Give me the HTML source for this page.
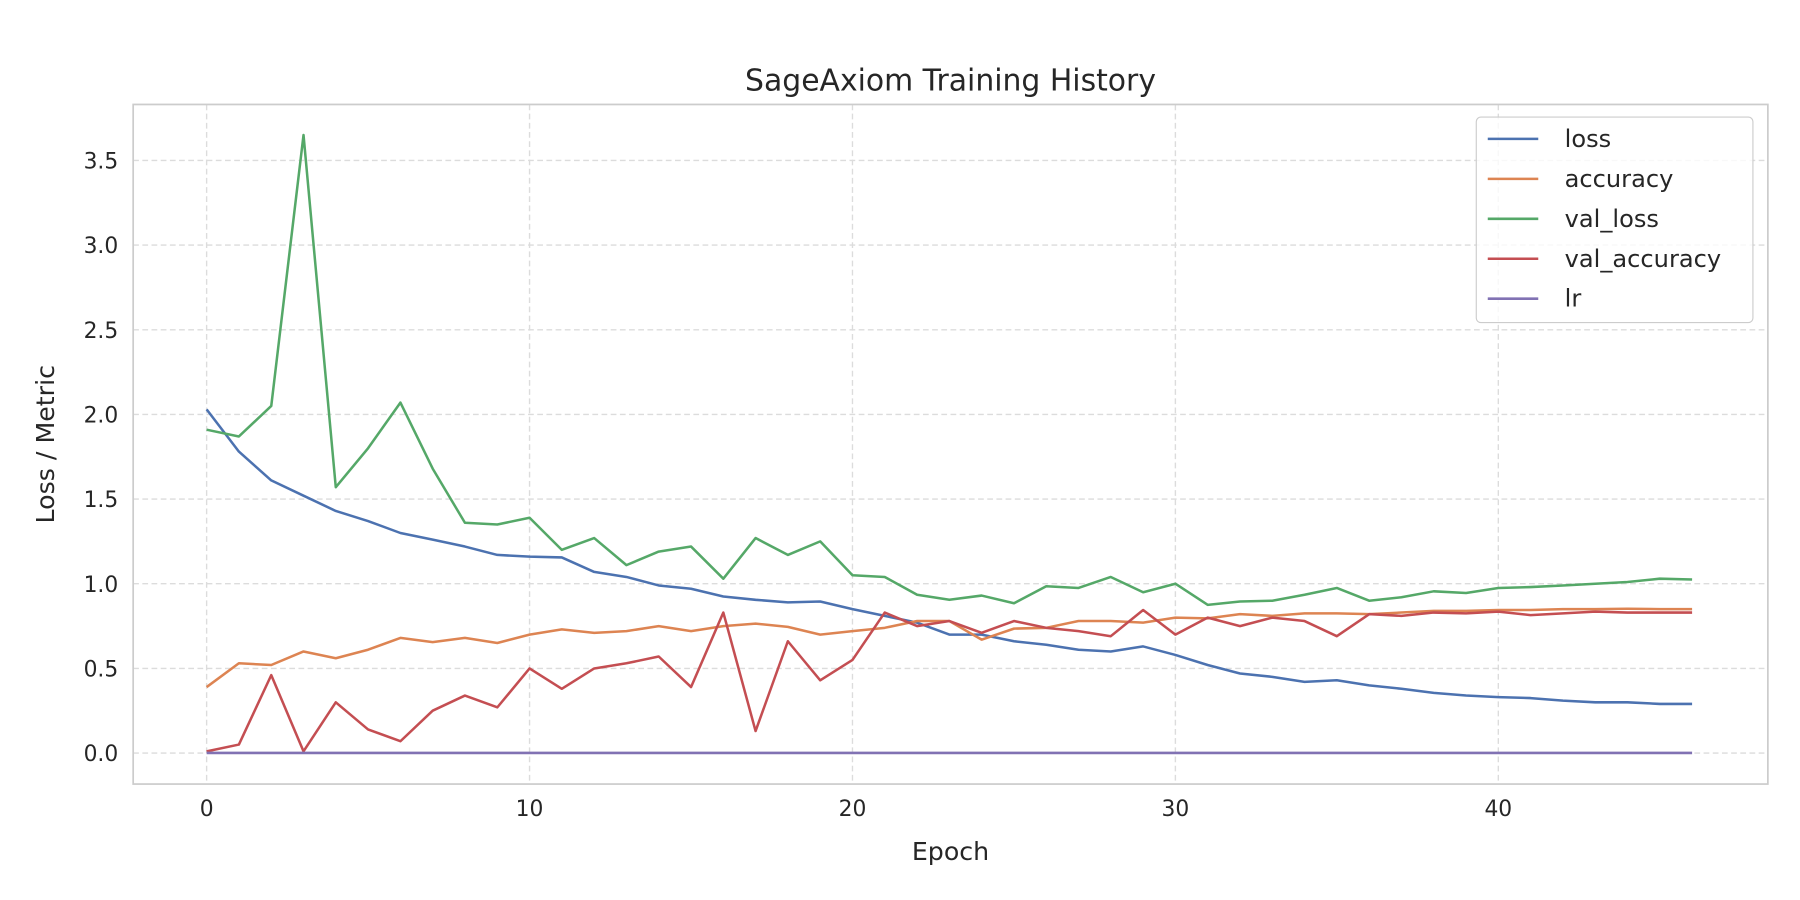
<!DOCTYPE html>
<html><head><meta charset="utf-8"><style>
html,body{margin:0;padding:0;background:#fff;}
svg{display:block;font-family:"DejaVu Sans","Liberation Sans",sans-serif;}
</style></head><body>
<svg id="chart" width="1800" height="900" viewBox="0 0 1568 784" xmlns="http://www.w3.org/2000/svg">
<rect x="0" y="0" width="1568" height="784" fill="#fff"/>
<g id="grid"></g>
<rect x="116" y="91" width="1424" height="592" fill="none" stroke="#cccccc" stroke-width="1.5"/>
<g id="ticks"></g>
<g id="series"></g>
<text x="828" y="79" text-anchor="middle" font-size="26" fill="#262626">SageAxiom Training History</text>
<text x="828" y="749" text-anchor="middle" font-size="22" fill="#262626">Epoch</text>
<text transform="translate(47,387) rotate(-90)" text-anchor="middle" font-size="22" fill="#262626">Loss / Metric</text>
<g id="legend">
<rect x="1286" y="102" width="241" height="179" rx="4" fill="#fff" fill-opacity="0.8" stroke="#cccccc" stroke-width="1"/>
</g>
</svg>
<script>
const epochs = Array.from({length:47},(_,i)=>i);
const lossVals = [2.03,1.78,1.61,1.52,1.43,1.37,1.30,1.26,1.22,1.17,1.16,1.155,1.07,1.04,0.99,0.97,0.925,0.905,0.89,0.895,0.85,0.81,0.77,0.70,0.70,0.66,0.64,0.61,0.60,0.63,0.58,0.52,0.47,0.45,0.42,0.43,0.40,0.38,0.355,0.34,0.33,0.325,0.31,0.30,0.30,0.29,0.29];
const accVals = [0.39,0.53,0.52,0.60,0.56,0.61,0.68,0.655,0.68,0.65,0.70,0.73,0.71,0.72,0.75,0.72,0.75,0.765,0.745,0.70,0.72,0.74,0.78,0.78,0.67,0.735,0.74,0.78,0.78,0.77,0.80,0.795,0.82,0.81,0.825,0.825,0.82,0.83,0.84,0.84,0.845,0.845,0.85,0.85,0.852,0.85,0.85];
const valLossVals = [1.91,1.87,2.05,3.65,1.57,1.80,2.07,1.68,1.36,1.35,1.39,1.20,1.27,1.11,1.19,1.22,1.03,1.27,1.17,1.25,1.05,1.04,0.935,0.905,0.93,0.885,0.985,0.975,1.04,0.95,1.00,0.875,0.895,0.90,0.935,0.975,0.90,0.92,0.955,0.945,0.975,0.98,0.99,1.00,1.01,1.03,1.025];
const valAccVals = [0.01,0.05,0.46,0.01,0.30,0.14,0.07,0.25,0.34,0.27,0.50,0.38,0.50,0.53,0.57,0.39,0.83,0.13,0.66,0.43,0.55,0.83,0.75,0.78,0.71,0.78,0.74,0.72,0.69,0.845,0.70,0.80,0.75,0.80,0.78,0.69,0.82,0.81,0.83,0.825,0.835,0.815,0.825,0.835,0.83,0.83,0.83];
const lrVals = Array(47).fill(0.001);
const xTicks = [0,10,20,30,40];
const yTicks = [0,0.5,1.0,1.5,2.0,2.5,3.0,3.5];
const seriesNames = ["loss","accuracy","val_loss","val_accuracy","lr"];
const seriesColors = ["#4c72b0","#dd8452","#55a868","#c44e52","#8172b3"];
const seriesData = [lossVals,accVals,valLossVals,valAccVals,lrVals];

const NS="http://www.w3.org/2000/svg";
const xs = e => 180 + e*28.13;
const ys = v => 656 - v*147.5;
function mk(tag, attrs, parent){const el=document.createElementNS(NS,tag);for(const k in attrs)el.setAttribute(k,attrs[k]);parent.appendChild(el);return el;}
const grid=document.getElementById('grid'), ticks=document.getElementById('ticks'), series=document.getElementById('series'), legend=document.getElementById('legend');
xTicks.forEach(t=>{
  const l=mk('line',{x1:xs(t),x2:xs(t),y1:91,y2:683,stroke:'#dcdcdc','stroke-width':1.2,'stroke-dasharray':'5,3'},grid);
  
  
  const tx=mk('text',{x:xs(t),y:711,'text-anchor':'middle','font-size':19,fill:'#262626'},ticks);
  tx.textContent=t;
  
  
});
yTicks.forEach(t=>{
  const l=mk('line',{x1:116,x2:1540,y1:ys(t),y2:ys(t),stroke:'#dcdcdc','stroke-width':1.2,'stroke-dasharray':'5,3'},grid);
  
  
  const tx=mk('text',{x:103,y:ys(t)+7,'text-anchor':'end','font-size':19,fill:'#262626'},ticks);
  tx.textContent=t.toFixed(1);
  
  
});
seriesData.forEach((vals,i)=>{
  const d=vals.map((v,j)=>(j?'L':'M')+xs(epochs[j]).toFixed(1)+','+ys(v).toFixed(1)).join(' ');
  const p=mk('path',{d:d,fill:'none',stroke:seriesColors[i],'stroke-width':2.2,'stroke-linejoin':'round'},series);
  
  
  const y=121+i*34.8;
  const ll=mk('line',{x1:1296,x2:1340,y1:y,y2:y,stroke:seriesColors[i],'stroke-width':2.2},legend);
  
  
  const lt=mk('text',{x:1363,y:y+7,'font-size':21,fill:'#262626'},legend);
  lt.textContent=seriesNames[i];
  
  
});
</script>
</body></html>
